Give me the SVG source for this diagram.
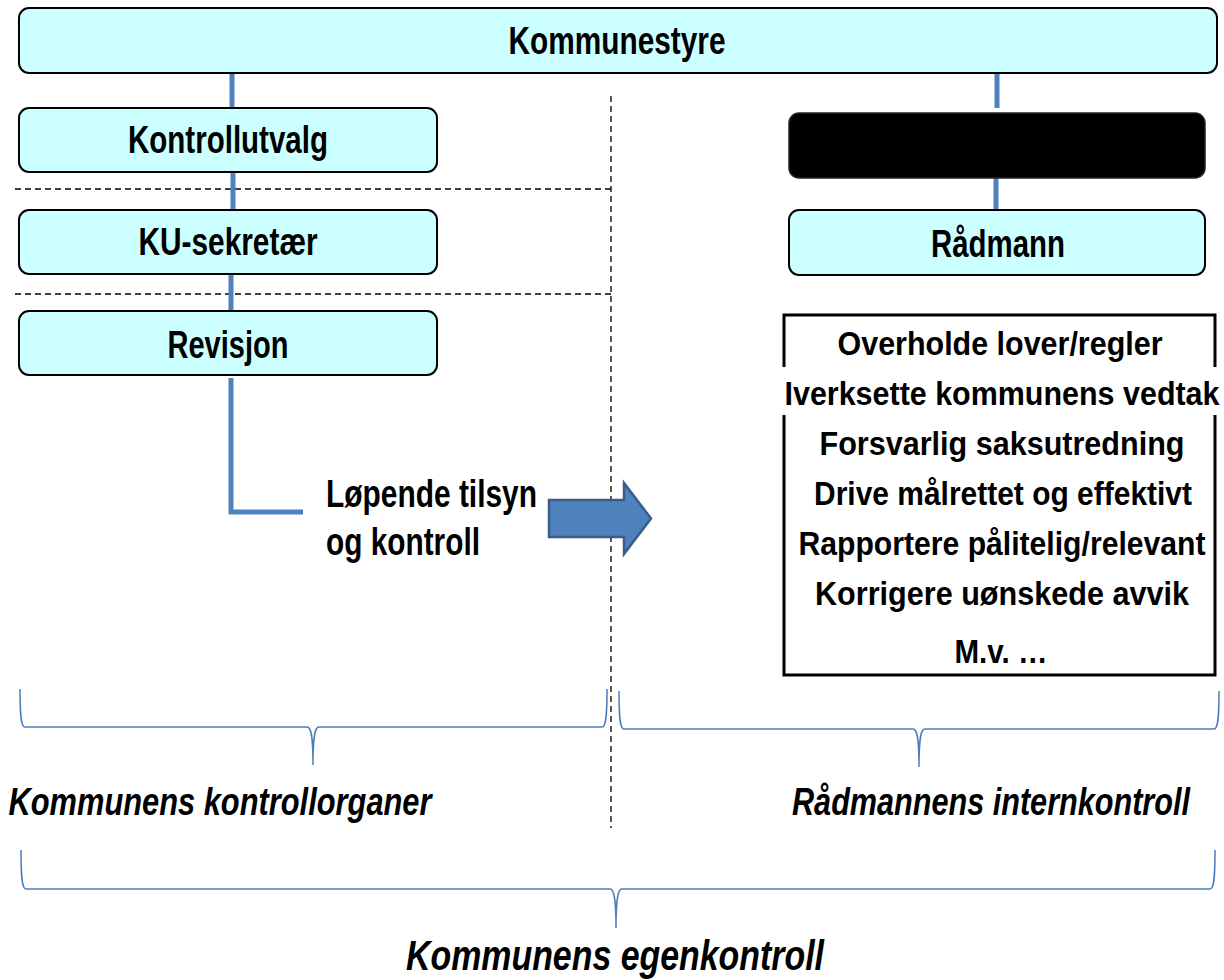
<svg xmlns="http://www.w3.org/2000/svg" width="1224" height="980" viewBox="0 0 1224 980">
<style>
.box{fill:#CCFFFF;stroke:#000;stroke-width:2}
.lbl{font-family:"Liberation Sans",Arial,sans-serif;font-weight:bold;font-size:38px;fill:#000;text-anchor:middle}
.lst{font-family:"Liberation Sans",Arial,sans-serif;font-weight:bold;font-size:34px;fill:#000;text-anchor:middle}
.it{font-family:"Liberation Sans",Arial,sans-serif;font-weight:bold;font-style:italic;fill:#000;text-anchor:middle}
.con{stroke:#4F81BD;stroke-width:5;fill:none}
.dash{stroke:#000;stroke-width:1.3;stroke-dasharray:6 4;fill:none}
.brace{stroke:#4A7EBB;stroke-width:1.5;fill:none}
</style>
<rect width="1224" height="980" fill="#fff"/>
<g id="dividers">
<line class="dash" x1="15" y1="189" x2="611" y2="189"/>
<line class="dash" x1="15" y1="294" x2="611" y2="294"/>
<line class="dash" x1="611" y1="96" x2="611" y2="828"/>
</g>
<g id="connectors">
<line class="con" x1="232" y1="73" x2="232" y2="108"/>
<line class="con" x1="233" y1="172" x2="233" y2="210"/>
<line class="con" x1="231" y1="274" x2="231" y2="311"/>
<line class="con" x1="997" y1="73" x2="997" y2="108"/>
<line class="con" x1="996" y1="176" x2="996" y2="210"/>
<polyline class="con" points="231,378 231,512 303,512"/>
<path d="M549 500 L624 500 L624 483 L651 518.5 L624 554 L624 537 L549 537 Z" fill="#4F81BD" stroke="#385D8A" stroke-width="2.5" stroke-linejoin="miter"/>
</g>
<g id="kommunestyre">
<rect class="box" x="19" y="8" width="1198" height="65" rx="10"/>
<text class="lbl" x="617" y="54" textLength="217" lengthAdjust="spacingAndGlyphs">Kommunestyre</text>
</g>
<g id="kontrollutvalg">
<rect class="box" x="19" y="108" width="418" height="64" rx="10"/>
<text class="lbl" x="228" y="153" textLength="200" lengthAdjust="spacingAndGlyphs">Kontrollutvalg</text>
</g>
<g id="ku-sekretaer">
<rect class="box" x="19" y="210" width="418" height="64" rx="10"/>
<text class="lbl" x="228" y="255" textLength="179" lengthAdjust="spacingAndGlyphs">KU-sekretær</text>
</g>
<g id="revisjon">
<rect class="box" x="19" y="311" width="418" height="64" rx="10"/>
<text class="lbl" x="228" y="358" textLength="121" lengthAdjust="spacingAndGlyphs">Revisjon</text>
</g>
<g id="hidden-box">
<rect x="789" y="113" width="416" height="65" rx="10" fill="#000" stroke="#222" stroke-width="1.5"/>
</g>
<g id="radmann">
<rect class="box" x="789" y="210" width="416" height="65" rx="10"/>
<text class="lbl" x="998" y="257" textLength="134" lengthAdjust="spacingAndGlyphs">Rådmann</text>
</g>
<g id="lopende">
<text class="lbl" x="326" y="507" style="text-anchor:start" textLength="211" lengthAdjust="spacingAndGlyphs">Løpende tilsyn</text>
<text class="lbl" x="326" y="555" style="text-anchor:start" textLength="154" lengthAdjust="spacingAndGlyphs">og kontroll</text>
</g>
<g id="tasks">
<rect x="784" y="315" width="431" height="360" fill="#fff" stroke="#000" stroke-width="3"/>
<rect x="780" y="367" width="442" height="48" fill="#fff"/>
<text class="lst" x="1000" y="355" textLength="325" lengthAdjust="spacingAndGlyphs">Overholde lover/regler</text>
<text class="lst" x="1002" y="405" textLength="435" lengthAdjust="spacingAndGlyphs">Iverksette kommunens vedtak</text>
<text class="lst" x="1002" y="455" textLength="365" lengthAdjust="spacingAndGlyphs">Forsvarlig saksutredning</text>
<text class="lst" x="1003" y="505" textLength="378" lengthAdjust="spacingAndGlyphs">Drive målrettet og effektivt</text>
<text class="lst" x="1002" y="555" textLength="407" lengthAdjust="spacingAndGlyphs">Rapportere pålitelig/relevant</text>
<text class="lst" x="1002" y="605" textLength="374" lengthAdjust="spacingAndGlyphs">Korrigere uønskede avvik</text>
<text class="lst" x="1001" y="663" textLength="93" lengthAdjust="spacingAndGlyphs">M.v. …</text>
</g>
<g id="brace-left">
<path class="brace" d="M20 689 C20 716 21 727 25 727 L307 727 C311 727 313 735 313 765 C313 735 315 727 319 727 L602 727 C606 727 607 716 607 689"/>
<text class="it" x="220" y="815" font-size="39" textLength="423" lengthAdjust="spacingAndGlyphs">Kommunens kontrollorganer</text>
</g>
<g id="brace-right">
<path class="brace" d="M619 691 C619 718 620 729 624 729 L913 729 C917 729 919 737 919 767 C919 737 921 729 925 729 L1214 729 C1218 729 1219 718 1219 691"/>
<text class="it" x="991" y="815" font-size="39" textLength="398" lengthAdjust="spacingAndGlyphs">Rådmannens internkontroll</text>
</g>
<g id="brace-bottom">
<path class="brace" d="M21 850 C21 878 22 889 26 889 L610 889 C614 889 616 898 616 928 C616 898 618 889 622 889 L1210 889 C1214 889 1215 878 1215 850"/>
<text class="it" x="615" y="970" font-size="43" textLength="418" lengthAdjust="spacingAndGlyphs">Kommunens egenkontroll</text>
</g>
</svg>
